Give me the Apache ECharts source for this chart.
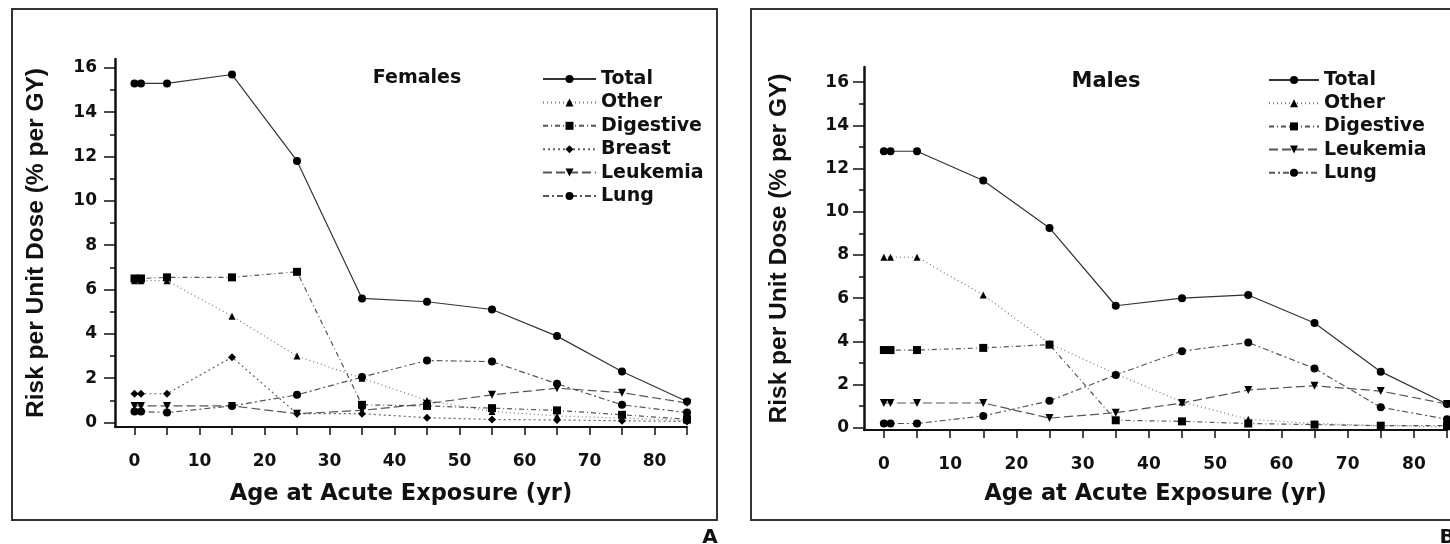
<!DOCTYPE html>
<html>
<head>
<meta charset="utf-8">
<script src="https://cdn.jsdelivr.net/npm/echarts@6.0.0/dist/echarts.min.js"></script>
<style>
  html, body { margin: 0; padding: 0; background: #fff; }
  #root { width: 1450px; height: 544px; }
</style>
</head>
<body>
<div id="root"></div>
<script>
// ages at exposure (yr)
const ages = [0, 1, 5, 15, 25, 35, 45, 55, 65, 75, 85]

// axis ticks / labels
const xTicks = [0, 5, 10, 15, 20, 25, 30, 35, 40, 45, 50, 55, 60, 65, 70, 75, 80, 85]
const xLabels = [0, 10, 20, 30, 40, 50, 60, 70, 80]
const yMajor = [0, 2, 4, 6, 8, 10, 12, 14, 16]
const yMinor = [1, 3, 5, 7, 9, 11, 13, 15]

// A - females
const femTotal = [15.3, 15.3, 15.3, 15.7, 11.8, 5.6, 5.45, 5.1, 3.9, 2.3, 0.95]
const femOther = [6.4, 6.4, 6.4, 4.8, 3.0, 2.0, 1.0, 0.5, 0.3, 0.2, 0.1]
const femDigestive = [6.5, 6.5, 6.55, 6.55, 6.8, 0.8, 0.75, 0.65, 0.55, 0.35, 0.15]
const femBreast = [1.3, 1.3, 1.3, 2.95, 0.4, 0.4, 0.22, 0.14, 0.12, 0.08, 0.05]
const femLeukemia = [0.75, 0.75, 0.75, 0.75, 0.4, 0.55, 0.85, 1.25, 1.55, 1.35, 0.88]
const femLung = [0.5, 0.5, 0.45, 0.75, 1.25, 2.05, 2.8, 2.75, 1.75, 0.8, 0.45]

// B - males
const malTotal = [12.8, 12.8, 12.8, 11.45, 9.25, 5.65, 6.0, 6.15, 4.85, 2.6, 1.1]
const malOther = [7.9, 7.9, 7.9, 6.15, 3.9, 2.5, 1.2, 0.4, 0.2, 0.1, 0.05]
const malDigestive = [3.6, 3.6, 3.6, 3.7, 3.85, 0.35, 0.3, 0.2, 0.15, 0.1, 0.1]
const malLeukemia = [1.15, 1.15, 1.15, 1.15, 0.45, 0.7, 1.15, 1.75, 1.95, 1.7, 1.1]
const malLung = [0.2, 0.2, 0.2, 0.55, 1.25, 2.45, 3.55, 3.95, 2.75, 0.95, 0.4]

const legendA = ['Total', 'Other', 'Digestive', 'Breast', 'Leukemia', 'Lung']
const legendB = ['Total', 'Other', 'Digestive', 'Leukemia', 'Lung']

const ink = '#111'
const tickFont = { fontFamily: 'DejaVu Sans', fontWeight: 'bold', fontSize: 17, color: ink }
const titleFont = { fontFamily: 'DejaVu Sans', fontWeight: 'bold', fontSize: 22.5, color: ink }

// line / marker look per category
const looks = {
  Total: { symbol: 'circle', size: 8, line: 'solid', color: '#333' },
  Other: { symbol: 'triangle', size: 7, line: [1, 3], color: '#777' },
  Digestive: { symbol: 'rect', size: 8, line: [5, 3, 1, 3], color: '#555' },
  Breast: { symbol: 'diamond', size: 8, line: [2, 3], color: '#666' },
  Leukemia: { symbol: 'triangle', size: 8, rotate: 180, line: [9, 4], color: '#555' },
  Lung: { symbol: 'circle', size: 8, line: [6, 3, 2, 3], color: '#555' }
}

function pairs (vals) {
  return ages.map((a, i) => [a, vals[i]])
}

function line (name, vals, axis) {
  const lk = looks[name]
  return {
    type: 'line',
    name: name,
    xAxisIndex: axis,
    yAxisIndex: axis * 2,
    data: pairs(vals),
    symbol: lk.symbol,
    symbolSize: lk.size,
    symbolRotate: lk.rotate || 0,
    showAllSymbol: true,
    itemStyle: { color: '#000' },
    lineStyle: { color: lk.color, width: 1.2, type: lk.line },
    emphasis: { disabled: true }
  }
}

function xAxis (grid, gap) {
  return {
    type: 'value',
    gridIndex: grid,
    min: -3,
    max: 85,
    name: 'Age at Acute Exposure (yr)',
    nameLocation: 'middle',
    nameGap: gap,
    nameTextStyle: titleFont,
    splitLine: { show: false },
    axisLine: { onZero: false, lineStyle: { color: ink, width: 2 } },
    axisTick: { customValues: xTicks, length: 8, lineStyle: { color: ink, width: 1.5 } },
    axisLabel: Object.assign({ customValues: xLabels, margin: 26 }, tickFont)
  }
}

function yAxes (grid, min, max, gap, margin) {
  return [{
    type: 'value',
    gridIndex: grid,
    position: 'left',
    min: min,
    max: max,
    name: 'Risk per Unit Dose (% per GY)',
    nameLocation: 'middle',
    nameRotate: 90,
    nameGap: gap,
    nameTextStyle: Object.assign({}, titleFont, { fontFamily: 'Liberation Sans', fontSize: 24.5 }),
    splitLine: { show: false },
    axisLine: { show: true, onZero: false, lineStyle: { color: ink, width: 2.5 } },
    axisTick: { customValues: yMajor, length: 11, lineStyle: { color: ink, width: 1.5 } },
    axisLabel: Object.assign({ customValues: yMajor, margin: margin }, tickFont)
  }, {
    // minor ticks on the same spine
    type: 'value',
    gridIndex: grid,
    position: 'left',
    offset: 0,
    min: min,
    max: max,
    splitLine: { show: false },
    axisLine: { show: false, onZero: false },
    axisLabel: { show: false },
    axisTick: { customValues: yMinor, length: 5, lineStyle: { color: ink, width: 1.5 } }
  }]
}

const chart = echarts.init(document.getElementById('root'))

const legendText = { fontFamily: 'DejaVu Sans', fontWeight: 'bold', fontSize: 19, color: ink, lineHeight: 20 }

const option = {
  animation: false,
  backgroundColor: '#fff',
  grid: [
    { left: 115, top: 59, width: 572, height: 368 },
    { left: 864, top: 67, width: 583, height: 363 }
  ],
  xAxis: [xAxis(0, 56), xAxis(1, 53)],
  yAxis: yAxes(0, -0.2, 16.4, 66, 18).concat(yAxes(1, -0.1, 16.7, 72, 15)),
  legend: [{
    data: legendA,
    orient: 'vertical',
    left: 542,
    top: 69,
    padding: 0,
    itemWidth: 53,
    itemHeight: 10,
    itemGap: 3.4,
    selectedMode: false,
    textStyle: legendText
  }, {
    data: legendB,
    orient: 'vertical',
    left: 1268,
    top: 70,
    padding: 0,
    itemWidth: 50,
    itemHeight: 10,
    itemGap: 3.2,
    selectedMode: false,
    textStyle: legendText
  }],
  graphic: [
    { type: 'rect', shape: { x: 12, y: 9, width: 705, height: 511 }, style: { fill: 'none', stroke: '#333', lineWidth: 2 }, silent: true },
    { type: 'rect', shape: { x: 751, y: 9, width: 730, height: 511 }, style: { fill: 'none', stroke: '#333', lineWidth: 2 }, silent: true },
    { type: 'text', style: { text: 'Females', x: 417, y: 78, align: 'center', verticalAlign: 'middle', fontFamily: 'DejaVu Sans', fontWeight: 'bold', fontSize: 19, fill: ink } },
    { type: 'text', style: { text: 'Males', x: 1106, y: 82, align: 'center', verticalAlign: 'middle', fontFamily: 'DejaVu Sans', fontWeight: 'bold', fontSize: 21, fill: ink } },
    { type: 'text', style: { text: 'A', x: 710, y: 538, align: 'center', verticalAlign: 'middle', fontFamily: 'DejaVu Sans', fontWeight: 'bold', fontSize: 20, fill: ink } },
    { type: 'text', style: { text: 'B', x: 1447, y: 538, align: 'center', verticalAlign: 'middle', fontFamily: 'DejaVu Sans', fontWeight: 'bold', fontSize: 20, fill: ink } }
  ],
  series: [
    line('Total', femTotal, 0),
    line('Other', femOther, 0),
    line('Digestive', femDigestive, 0),
    line('Breast', femBreast, 0),
    line('Leukemia', femLeukemia, 0),
    line('Lung', femLung, 0),
    line('Total', malTotal, 1),
    line('Other', malOther, 1),
    line('Digestive', malDigestive, 1),
    line('Leukemia', malLeukemia, 1),
    line('Lung', malLung, 1)
  ]
}

chart.setOption(option)
</script>
</body>
</html>
